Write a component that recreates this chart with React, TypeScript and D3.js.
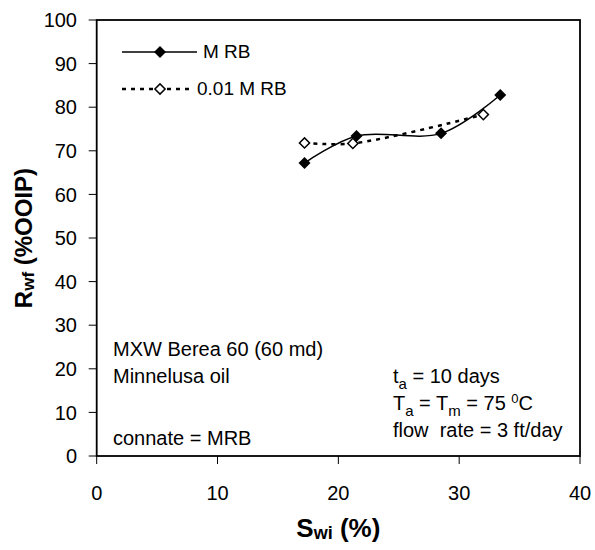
import React from 'react';
import * as d3 from 'd3';

const xTicks = [0, 10, 20, 30, 40];
const yTicks = [0, 10, 20, 30, 40, 50, 60, 70, 80, 90, 100];
const mrbX = [17.2, 21.5, 28.5, 33.4];
const mrbY = [67.2, 73.4, 74.0, 82.8];
const dilX = [17.2, 21.2, 32.0];
const dilY = [71.8, 71.7, 78.3];
const seriesNames = ['M RB', '0.01 M RB'];

const FONT = '"Liberation Sans", Arial, Helvetica, sans-serif';

export default function App() {
  const W = 595, H = 550;
  const left = 96.7, right = 580, top = 20, bottom = 456;
  const x = d3.scaleLinear().domain([0, 40]).range([left, right]);
  const y = d3.scaleLinear().domain([0, 100]).range([bottom, top]);

  const mrb = mrbX.map((v, i) => [v, mrbY[i]] as [number, number]);
  const dil = dilX.map((v, i) => [v, dilY[i]] as [number, number]);

  const line = d3.line<[number, number]>()
    .x(d => x(d[0]))
    .y(d => y(d[1]))
    .curve(d3.curveCatmullRom.alpha(0.5));

  const diamond = d3.symbol().type(d3.symbolSquare).size(72)() as string;
  const diamondOpen = d3.symbol().type(d3.symbolSquare).size(52)() as string;

  const legY1 = 52, legY2 = 89;

  return (
    <svg width={W} height={H} style={{ position: 'absolute', left: 0, top: 0, background: '#fff' }}
      fontFamily={FONT}>
      <rect x={0} y={0} width={W} height={H} fill="#fff" />
      {/* frame */}
      <rect x={left} y={top} width={right - left} height={bottom - top} fill="none" stroke="#000" strokeWidth={1.8} />
      {/* y ticks */}
      {yTicks.map(t => (
        <g key={'y' + t}>
          <line x1={left - 8} x2={left} y1={y(t)} y2={y(t)} stroke="#000" strokeWidth={1} />
          <text x={77} y={y(t)} dy="0.36em" textAnchor="end" fontSize={20}>{t}</text>
        </g>
      ))}
      {/* x ticks */}
      {xTicks.map(t => (
        <g key={'x' + t}>
          <line x1={x(t)} x2={x(t)} y1={bottom} y2={bottom + 8} stroke="#000" strokeWidth={1} />
          <text x={x(t)} y={500} textAnchor="middle" fontSize={20}>{t}</text>
        </g>
      ))}
      {/* axis titles */}
      <text x={(left + right) / 2} y={537} textAnchor="middle" fontSize={26} fontWeight="bold">
        S<tspan fontSize={18} dy={2}>wi</tspan><tspan dy={-2}> (%)</tspan>
      </text>
      <text transform={`translate(32,${(top + bottom) / 2}) rotate(-90)`} textAnchor="middle" fontSize={24} fontWeight="bold">
        R<tspan fontSize={17} dy={2}>wf</tspan><tspan dy={-2}> (%OOIP)</tspan>
      </text>

      {/* series lines */}
      <path d={line(mrb) as string} fill="none" stroke="#000" strokeWidth={1.5} />
      <path d={line(dil) as string} fill="none" stroke="#000" strokeWidth={2.5} strokeDasharray="4,5" />
      {mrb.map((d, i) => (
        <path key={'m' + i} d={diamond} transform={`translate(${x(d[0])},${y(d[1])}) rotate(45)`} fill="#000" />
      ))}
      {dil.map((d, i) => (
        <path key={'d' + i} d={diamondOpen} transform={`translate(${x(d[0])},${y(d[1])}) rotate(45)`} fill="#fff" stroke="#000" strokeWidth={1.5} />
      ))}

      {/* legend */}
      <line x1={122} x2={197} y1={legY1} y2={legY1} stroke="#000" strokeWidth={1.5} />
      <path d={diamond} transform={`translate(160,${legY1}) rotate(45)`} fill="#000" />
      <text x={203} y={legY1 + 6} fontSize={19}>{seriesNames[0]}</text>
      <line x1={122} x2={192} y1={legY2} y2={legY2} stroke="#000" strokeWidth={2.5} strokeDasharray="4,5" />
      <path d={diamondOpen} transform={`translate(160,${legY2}) rotate(45)`} fill="#fff" stroke="#000" strokeWidth={1.5} />
      <text x={197} y={legY2 + 6} fontSize={19}>{seriesNames[1]}</text>

      {/* annotations */}
      <text x={113} y={356} fontSize={20}>MXW Berea 60 (60 md)</text>
      <text x={113} y={383} fontSize={20}>Minnelusa oil</text>
      <text x={113} y={445} fontSize={20}>connate = MRB</text>

      <text x={393} y={383} fontSize={20}>
        t<tspan fontSize={15} dy={6}>a</tspan><tspan dy={-6}> = 10 days</tspan>
      </text>
      <text x={393} y={410} fontSize={20}>
        T<tspan fontSize={15} dy={6}>a</tspan><tspan dy={-6}> = T</tspan><tspan fontSize={15} dy={6}>m</tspan><tspan dy={-6}> = 75 </tspan><tspan fontSize={13} dy={-7}>0</tspan><tspan dy={7}>C</tspan>
      </text>
      <text x={393} y={437} fontSize={20} style={{ whiteSpace: 'pre' }}>{'flow  rate = 3 ft/day'}</text>
    </svg>
  );
}
